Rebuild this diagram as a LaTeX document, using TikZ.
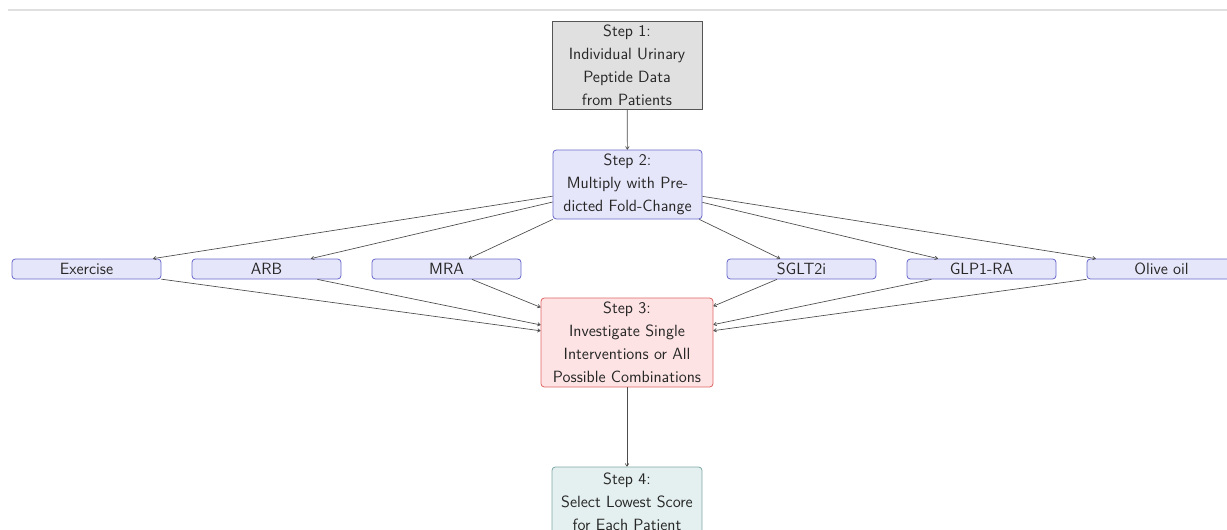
\documentclass[tikz,border=0pt]{standalone}
\usetikzlibrary{arrows.meta}
\definecolor{ivfill}{HTML}{E6E6FA}
\definecolor{ivdraw}{HTML}{6A6ACC}
\definecolor{sonefill}{HTML}{E0E0E0}
\definecolor{sonedraw}{HTML}{555555}
\definecolor{sthreefill}{HTML}{FDE3E3}
\definecolor{sthreedraw}{HTML}{E06666}
\definecolor{sfourfill}{HTML}{E4F0EF}
\definecolor{sfourdraw}{HTML}{7FA8A6}
\begin{document}
\begin{tikzpicture}[x=0.75pt,y=-0.75pt,
  every node/.style={font=\sffamily\fontsize{12.2}{17.2}\selectfont, text=black!85, align=center, inner sep=1pt, line width=0.6pt},
  boxone/.style={draw=sonedraw, fill=sonefill, minimum width=112.5pt, minimum height=66pt},
  boxtwo/.style={draw=ivdraw, fill=ivfill, rounded corners=2.5pt, minimum width=111.75pt, minimum height=51.75pt},
  ivbox/.style={draw=ivdraw, fill=ivfill, rounded corners=2.5pt, minimum width=111.75pt, minimum height=15pt},
  boxthree/.style={draw=sthreedraw, fill=sthreefill, rounded corners=2.5pt, minimum width=129pt, minimum height=66.75pt},
  boxfour/.style={draw=sfourdraw, fill=sfourfill, rounded corners=2.5pt, minimum width=112.5pt, minimum height=51.75pt},
  link/.style={draw=black!70, line width=0.5pt, -{To[length=2.5pt,width=3pt]}}
]
\useasboundingbox (0,0) rectangle (1227,529);
\clip (0,0) rectangle (1227,529);
\draw[draw=black!12, line width=2pt] (8,10) -- (1227,10);

\node[boxone] (s1) at (627,65) {Step 1:\\Individual Urinary\\Peptide Data\\from Patients};
\node[boxtwo] (s2) at (627.5,184.5) {Step 2:\\Multiply with Pre-\\dicted Fold-Change};
\node[ivbox] (ex) at (86.5,269) {Exercise};
\node[ivbox] (arb) at (266.5,269) {ARB};
\node[ivbox] (mra) at (446.5,269) {MRA};
\node[ivbox] (sglt) at (801.5,269) {SGLT2i};
\node[ivbox] (glp) at (981.5,269) {GLP1-RA};
\node[ivbox] (olive) at (1161.5,269) {Olive oil};
\node[boxthree] (s3) at (627,342.5) {Step 3:\\Investigate Single\\Interventions or All\\Possible Combinations};
\node[boxfour] (s4) at (627,501.5) {Step 4:\\Select Lowest Score\\for Each Patient};

\draw[link] (s1) -- (s2);
\foreach \n in {ex,arb,mra,sglt,glp,olive}{
  \draw[link] (s2) -- (\n);
  \draw[link] (\n) -- (s3);
}
\draw[link] (s3) -- (s4);
\end{tikzpicture}
\end{document}
